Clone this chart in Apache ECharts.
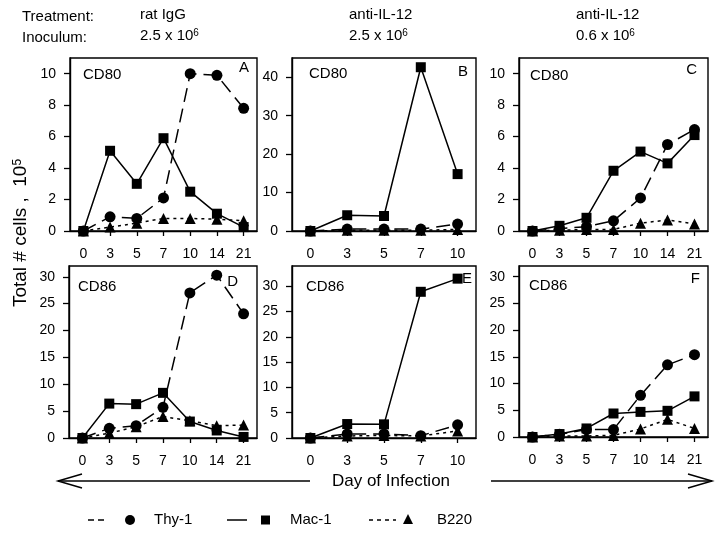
<!DOCTYPE html>
<html>
<head>
<meta charset="utf-8">
<script src="https://cdn.jsdelivr.net/npm/echarts@6/dist/echarts.min.js"></script>
<style>
html,body{margin:0;padding:0;background:#fff;}
#chart{width:722px;height:539px;}
</style>
</head>
<body>
<div id="chart"></div>
<script>
// ---- data ----
const daysLong = ['0','3','5','7','10','14','21'];
const daysShort = ['0','3','5','7','10'];

const thyA  = [0, 0.9, 0.8, 2.1, 10.0, 9.9, 7.8];
const macA  = [0, 5.1, 3.0, 5.9, 2.5, 1.1, 0.25];
const b220A = [0, 0.25, 0.5, 0.8, 0.8, 0.75, 0.65];

const thyB  = [0, 0.5, 0.5, 0.5, 1.8];
const macB  = [0, 4.1, 3.9, 42.6, 14.8];
const b220B = [0, 0.2, 0.2, 0.2, 0.4];

const thyC  = [0, 0.15, 0.27, 0.65, 2.1, 5.5, 6.45];
const macC  = [0, 0.33, 0.84, 3.83, 5.05, 4.3, 6.1];
const b220C = [0, 0.05, 0.1, 0.1, 0.5, 0.7, 0.45];

const thyD  = [0, 1.8, 2.3, 5.7, 27.0, 30.3, 23.1];
const macD  = [0, 6.4, 6.3, 8.4, 3.06, 1.4, 0.2];
const b220D = [0, 0.9, 2.1, 4.0, 3.2, 2.3, 2.4];

const thyE  = [0, 0.8, 0.8, 0.45, 2.6];
const macE  = [0, 2.76, 2.7, 28.9, 31.5];
const b220E = [0, 0.4, 0.5, 0.4, 1.4];

const thyF  = [0, 0.5, 1.4, 1.4, 7.8, 13.5, 15.4];
const macF  = [0, 0.55, 1.6, 4.4, 4.7, 4.9, 7.6];
const b220F = [0, 0.2, 0.2, 0.3, 1.5, 3.3, 1.6];

const ticksSmall = [0, 2, 4, 6, 8, 10];
const ticksB = [0, 10, 20, 30, 40];
const ticksCD86 = [0, 5, 10, 15, 20, 25, 30];

const panelTitles = ['CD80','CD80','CD80','CD86','CD86','CD86'];
const panelLetters = ['A','B','C','D','E','F'];
const treatments = ['rat IgG','anti-IL-12','anti-IL-12'];
const inocula = ['2.5 x 10{s|6}','2.5 x 10{s|6}','0.6 x 10{s|6}'];
const legendNames = ['Thy-1','Mac-1','B220'];

// ---- layout ----
const FONT = '"Liberation Sans", Arial, sans-serif';
const grids = [
  {left: 70,  top: 58,  width: 187, height: 173},
  {left: 292, top: 58,  width: 184, height: 173},
  {left: 519, top: 58,  width: 189, height: 173},
  {left: 69,  top: 266, width: 188, height: 172},
  {left: 292, top: 266, width: 184, height: 172},
  {left: 519, top: 266, width: 189, height: 171}
];
const panels = [
  {cats: daysLong,  max: 11, interval: 2,  ticks: ticksSmall, thy: thyA, mac: macA, b: b220A},
  {cats: daysShort, max: 45, interval: 10, ticks: ticksB,     thy: thyB, mac: macB, b: b220B},
  {cats: daysLong,  max: 11, interval: 2,  ticks: ticksSmall, thy: thyC, mac: macC, b: b220C},
  {cats: daysLong,  max: 32, interval: 5,  ticks: ticksCD86,  thy: thyD, mac: macD, b: b220D},
  {cats: daysShort, max: 34, interval: 5,  ticks: ticksCD86,  thy: thyE, mac: macE, b: b220E},
  {cats: daysLong,  max: 32, interval: 5,  ticks: ticksCD86,  thy: thyF, mac: macF, b: b220F}
];

const gridOpts = grids.map(g => Object.assign({show: true, borderColor: '#000', borderWidth: 1.4, backgroundColor: 'transparent'}, g));
const xAxes = panels.map((p, i) => ({
  type: 'category', gridIndex: i, data: p.cats, boundaryGap: true,
  axisLine: {show: true, lineStyle: {color: '#000', width: 1.4}},
  axisTick: {show: true, alignWithLabel: true, inside: false, length: 5, lineStyle: {color: '#000', width: 1.3}},
  axisLabel: {color: '#000', fontSize: 14, fontFamily: FONT, margin: 16, interval: 0},
  splitLine: {show: false}
}));
const yAxes = panels.map((p, i) => ({
  type: 'value', gridIndex: i, min: 0, max: p.max, interval: p.interval,
  axisLine: {show: true, lineStyle: {color: '#000', width: 1.4}},
  axisTick: {show: true, inside: false, length: 6, customValues: p.ticks, lineStyle: {color: '#000', width: 1.3}},
  axisLabel: {color: '#000', fontSize: 14, fontFamily: FONT, margin: 14, customValues: p.ticks},
  splitLine: {show: false}
}));

const series = [];
panels.forEach((p, i) => {
  series.push({
    type: 'line', name: legendNames[1], xAxisIndex: i, yAxisIndex: i, data: p.mac,
    symbol: 'rect', symbolSize: 10, showAllSymbol: true,
    lineStyle: {color: '#000', width: 1.5, type: 'solid'}, itemStyle: {color: '#000'}
  });
  series.push({
    type: 'line', name: legendNames[0], xAxisIndex: i, yAxisIndex: i, data: p.thy,
    symbol: 'circle', symbolSize: 11, showAllSymbol: true,
    lineStyle: {color: '#000', width: 1.5, type: [14, 7]}, itemStyle: {color: '#000'}
  });
  series.push({
    type: 'line', name: legendNames[2], xAxisIndex: i, yAxisIndex: i, data: p.b,
    symbol: 'triangle', symbolSize: 11, showAllSymbol: true,
    lineStyle: {color: '#000', width: 1.5, type: [3, 4]}, itemStyle: {color: '#000'}
  });
});

// ---- annotations ----
const graphics = [];
function txt(x, y, text, size, align, extra, supSize) {
  return Object.assign({
    type: 'text', x: x, y: y, silent: true,
    style: {text: text, fill: '#000', fontSize: size, fontFamily: FONT,
      align: align || 'left', verticalAlign: 'middle', textAlign: align || 'left', textVerticalAlign: 'middle',
      rich: {s: {fontSize: supSize || 10, fontFamily: FONT, verticalAlign: 'top', fill: '#000'}}}
  }, extra || {});
}
// header
graphics.push(txt(22, 17, 'Treatment:', 15));
graphics.push(txt(22, 38, 'Inoculum:', 15));
const headerX = [140, 349, 576];
treatments.forEach((t, i) => {
  graphics.push(txt(headerX[i], 15, t, 15));
  graphics.push(txt(headerX[i], 36, inocula[i], 15));
});
// panel titles and letters
const titlePos = [[83, 75], [309, 74], [530, 76], [78, 287], [306, 287], [529, 286]];
const letterPos = [[249, 68], [468, 72], [697, 70], [238, 282], [472, 279], [700, 279]];
panelTitles.forEach((t, i) => {
  graphics.push(txt(titlePos[i][0], titlePos[i][1], t, 15));
  graphics.push(txt(letterPos[i][0], letterPos[i][1], panelLetters[i], 15, 'right'));
});
// y axis name
graphics.push(txt(21, 233, 'Total # cells ,  10{s|5}', 19, 'center', {rotation: Math.PI / 2}, 12));
// x axis name with arrows
graphics.push(txt(391, 481, 'Day of Infection', 17, 'center'));
const lineStyle = {stroke: '#000', lineWidth: 1.5, fill: null};
graphics.push({type: 'polyline', silent: true, shape: {points: [[310, 481], [58, 481]]}, style: lineStyle});
graphics.push({type: 'polyline', silent: true, shape: {points: [[82, 474], [58, 481], [82, 488]]}, style: lineStyle});
graphics.push({type: 'polyline', silent: true, shape: {points: [[491, 481], [712, 481]]}, style: lineStyle});
graphics.push({type: 'polyline', silent: true, shape: {points: [[688, 474], [712, 481], [688, 488]]}, style: lineStyle});
// legend
const LY = 520;
graphics.push({type: 'line', silent: true, shape: {x1: 88, y1: LY, x2: 108, y2: LY}, style: {stroke: '#000', lineWidth: 1.3, lineDash: [6, 4]}});
graphics.push({type: 'circle', silent: true, shape: {cx: 130, cy: LY, r: 5}, style: {fill: '#000'}});
graphics.push(txt(154, LY, legendNames[0], 15));
graphics.push({type: 'line', silent: true, shape: {x1: 227, y1: LY, x2: 247, y2: LY}, style: {stroke: '#000', lineWidth: 1.5}});
graphics.push({type: 'rect', silent: true, shape: {x: 261, y: LY - 4.5, width: 9, height: 9}, style: {fill: '#000'}});
graphics.push(txt(290, LY, legendNames[1], 15));
graphics.push({type: 'line', silent: true, shape: {x1: 369, y1: LY, x2: 396, y2: LY}, style: {stroke: '#000', lineWidth: 1.3, lineDash: [4, 4]}});
graphics.push({type: 'polygon', silent: true, shape: {points: [[408, LY - 6], [413, LY + 4], [403, LY + 4]]}, style: {fill: '#000'}});
graphics.push(txt(437, LY, legendNames[2], 15));

const chart = echarts.init(document.getElementById('chart'), null, {renderer: 'canvas'});
chart.setOption({
  animation: false,
  backgroundColor: '#fff',
  grid: gridOpts,
  xAxis: xAxes,
  yAxis: yAxes,
  series: series,
  graphic: graphics
});
</script>
</body>
</html>
